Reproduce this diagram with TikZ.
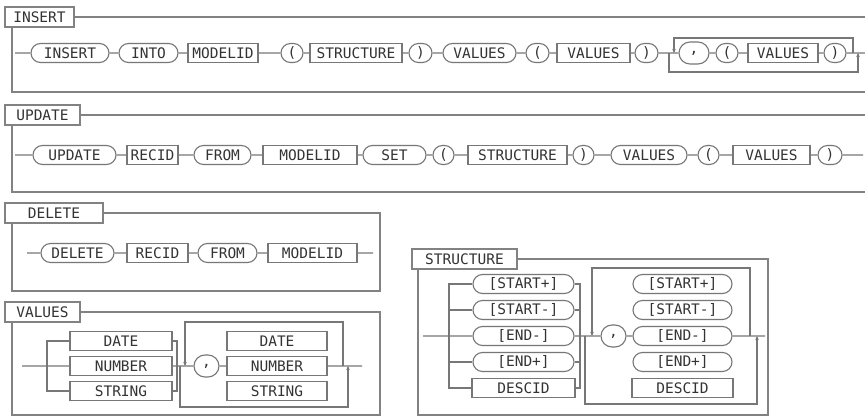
\documentclass[tikz,border=0pt]{standalone}
\usepackage{fontspec}
\newfontfamily\railfont{DejaVu Sans Mono}
\usetikzlibrary{arrows.meta, shapes.misc}

\definecolor{railgray}{HTML}{777777}
\definecolor{framegray}{HTML}{828282}
\definecolor{txtgray}{HTML}{333333}

\begin{document}
\begin{tikzpicture}[
    x=1pt, y=-1pt,
    font={\railfont\fontsize{14.5}{16}\selectfont},
    >={Stealth[length=4pt, width=3.5pt]},
    rail/.style={draw=railgray, line width=1.1pt},
    frame/.style={draw=framegray, line width=1.4pt},
    term/.style={rounded rectangle, draw=railgray, line width=1.1pt, fill=white, text=txtgray, minimum height=19pt, inner xsep=1pt, inner ysep=0pt},
    nterm/.style={rectangle, draw=railgray, line width=1.1pt, fill=white, text=txtgray, minimum height=19pt, inner xsep=1pt, inner ysep=0pt},
    title/.style={rectangle, draw=framegray, line width=1.4pt, fill=white, text=txtgray, minimum height=20pt, inner xsep=1pt, inner ysep=0pt}
]
    \fill[white, use as bounding box] (0,0) rectangle (865,417);

    % --- INSERT ---
    \node[title, minimum width=69pt] (ins-title) at (39.5,17) {INSERT};
    \draw[frame] (ins-title.east) -- (865,17);
    \draw[frame] (12,27) |- (865,92);

    \coordinate (ins-start) at (15,53);
    \node[term, minimum width=80pt] (ins-insert) at (70,53) {INSERT};
    \node[term, minimum width=61pt] (ins-into) at (148.5,53) {INTO};
    \node[nterm, minimum width=70pt] (ins-modelid) at (223,53) {MODELID};
    \node[term, minimum width=24pt] (ins-lp1) at (292,53) {(};
    \node[nterm, minimum width=92pt] (ins-struct) at (356,53) {STRUCTURE};
    \node[term, minimum width=25pt] (ins-rp1) at (420.5,53) {)};
    \node[term, minimum width=75pt] (ins-values) at (479.5,53) {VALUES};
    \node[term, minimum width=25pt] (ins-lp2) at (537.5,53) {(};
    \node[nterm, minimum width=73pt] (ins-valbox) at (593.5,53) {VALUES};
    \node[term, minimum width=25pt] (ins-rp2) at (646.5,53) {)};
    \node[term, minimum width=32pt, minimum height=22pt] (ins-comma) at (694,53) {,};
    \node[term, minimum width=24pt] (ins-lp3) at (727,53) {(};
    \node[nterm, minimum width=70pt] (ins-valbox2) at (783,53) {VALUES};
    \node[term, minimum width=24pt] (ins-rp3) at (835,53) {)};
    \coordinate (ins-end) at (865,53);

    \draw[rail] (ins-start) -- (ins-insert) -- (ins-into) -- (ins-modelid) -- (ins-lp1) -- (ins-struct)
        -- (ins-rp1) -- (ins-values) -- (ins-lp2) -- (ins-valbox) -- (ins-rp2) -- (ins-comma)
        -- (ins-lp3) -- (ins-valbox2) -- (ins-rp3) -- (ins-end);

    % repeat loop
    \coordinate (ins-lt) at (674,53);
    \coordinate (ins-top) at (674,38);
    \coordinate (ins-rt) at (853,53);
    \coordinate (ins-lb) at (669,53);
    \coordinate (ins-bot) at (858,72);
    \coordinate (ins-rb) at (858,53);
    \draw[rail, ->] (ins-rt) |- (ins-top) -- (ins-lt);
    \draw[rail, ->] (ins-lb) |- (ins-bot) -- (ins-rb);

    % --- UPDATE ---
    \node[title, minimum width=75pt] (upd-title) at (42.5,115) {UPDATE};
    \draw[frame] (upd-title.east) -- (865,115);
    \draw[frame] (12,125) |- (865,192);

    \coordinate (upd-start) at (15,155);
    \node[term, minimum width=85pt] (upd-update) at (74.5,155) {UPDATE};
    \node[nterm, minimum width=51pt] (upd-recid) at (152.5,155) {RECID};
    \node[term, minimum width=59pt] (upd-from) at (222.5,155) {FROM};
    \node[nterm, minimum width=94pt] (upd-modelid) at (310,155) {MODELID};
    \node[term, minimum width=65pt] (upd-set) at (394.5,155) {SET};
    \node[term, minimum width=23pt] (upd-lp1) at (443.5,155) {(};
    \node[nterm, minimum width=99pt] (upd-struct) at (517.5,155) {STRUCTURE};
    \node[term, minimum width=23pt] (upd-rp1) at (583.5,155) {)};
    \node[term, minimum width=78pt] (upd-values) at (649,155) {VALUES};
    \node[term, minimum width=23pt] (upd-lp2) at (708.5,155) {(};
    \node[nterm, minimum width=77pt] (upd-valbox) at (771.5,155) {VALUES};
    \node[term, minimum width=26pt] (upd-rp2) at (830,155) {)};
    \coordinate (upd-end) at (863,155);

    \draw[rail] (upd-start) -- (upd-update) -- (upd-recid) -- (upd-from) -- (upd-modelid) -- (upd-set)
        -- (upd-lp1) -- (upd-struct) -- (upd-rp1) -- (upd-values) -- (upd-lp2) -- (upd-valbox)
        -- (upd-rp2) -- (upd-end);

    % --- DELETE ---
    \node[title, minimum width=98pt] (del-title) at (54,213) {DELETE};
    \draw[frame] (del-title.east) -| (380,291) -| (12,223);

    \coordinate (del-start) at (27,253);
    \node[term, minimum width=75pt] (del-delete) at (77.5,253) {DELETE};
    \node[nterm, minimum width=61pt] (del-recid) at (157.5,253) {RECID};
    \node[term, minimum width=61pt] (del-from) at (227.5,253) {FROM};
    \node[nterm, minimum width=89pt] (del-modelid) at (312.5,253) {MODELID};
    \coordinate (del-end) at (373,253);

    \draw[rail] (del-start) -- (del-delete) -- (del-recid) -- (del-from) -- (del-modelid) -- (del-end);

    % --- VALUES ---
    \node[title, minimum width=75pt] (val-title) at (42.5,312) {VALUES};
    \draw[frame] (val-title.east) -| (380,415) -| (12,322);

    \coordinate (val-start) at (22,366);
    \coordinate (val-split) at (47,366);
    \node[nterm, minimum width=102pt] (val-date) at (121,341) {DATE};
    \node[nterm, minimum width=102pt] (val-number) at (121,366) {NUMBER};
    \node[nterm, minimum width=102pt] (val-string) at (121,391) {STRING};
    \coordinate (val-merge) at (177,366);
    \node[term, minimum width=27pt, minimum height=22pt] (val-comma) at (206.5,366) {,};
    \node[nterm, minimum width=100pt] (val-date2) at (277,341) {DATE};
    \node[nterm, minimum width=100pt] (val-number2) at (277,366) {NUMBER};
    \node[nterm, minimum width=100pt] (val-string2) at (277,391) {STRING};
    \coordinate (val-end) at (362,366);

    \draw[rail] (val-start) -- (val-number) -- (val-comma) -- (val-number2) -- (val-end);
    \foreach \n in {date,string} {
        \draw[rail] (val-\n.west) -| (val-split);
        \draw[rail] (val-\n.east) -| (val-merge);
    }

    % repeat loop
    \coordinate (val-lt) at (185,366);
    \coordinate (val-top) at (185,322);
    \coordinate (val-rt) at (343,366);
    \coordinate (val-lb) at (180,366);
    \coordinate (val-bot) at (348,407);
    \coordinate (val-rb) at (348,366);
    \draw[rail, ->] (val-rt) |- (val-top) -- (val-lt);
    \draw[rail, ->] (val-lb) |- (val-bot) -- (val-rb);

    % --- STRUCTURE ---
    \node[title, minimum width=105pt] (st-title) at (464.5,259) {STRUCTURE};
    \draw[frame] (st-title.east) -| (768,415) -| (418,269);

    \coordinate (st-start) at (423,336);
    \coordinate (st-split) at (449,336);
    \node[term, minimum width=103pt] (st-startp) at (523.5,284) {[START+]};
    \node[term, minimum width=103pt] (st-startm) at (523.5,310) {[START-]};
    \node[term, minimum width=103pt] (st-endm) at (523.5,336) {[END-]};
    \node[term, minimum width=103pt] (st-endp) at (523.5,362) {[END+]};
    \node[nterm, minimum width=103pt] (st-descid) at (523.5,388) {DESCID};
    \coordinate (st-merge) at (580,336);
    \node[term, minimum width=27pt, minimum height=22pt] (st-comma) at (613.5,336) {,};
    \node[term, minimum width=101pt] (st-startp2) at (682.5,284) {[START+]};
    \node[term, minimum width=101pt] (st-startm2) at (682.5,310) {[START-]};
    \node[term, minimum width=101pt] (st-endm2) at (682.5,336) {[END-]};
    \node[term, minimum width=101pt] (st-endp2) at (682.5,362) {[END+]};
    \node[nterm, minimum width=101pt] (st-descid2) at (682.5,388) {DESCID};
    \coordinate (st-end) at (765,336);

    \draw[rail] (st-start) -- (st-endm) -- (st-comma) -- (st-endm2) -- (st-end);
    \foreach \n in {startp,startm,endp,descid} {
        \draw[rail] (st-\n.west) -| (st-split);
        \draw[rail] (st-\n.east) -| (st-merge);
    }

    % repeat loop
    \coordinate (st-lt) at (592,336);
    \coordinate (st-top) at (592,268);
    \coordinate (st-rt) at (750,336);
    \coordinate (st-lb) at (585,336);
    \coordinate (st-bot) at (757,404);
    \coordinate (st-rb) at (757,336);
    \draw[rail, ->] (st-rt) |- (st-top) -- (st-lt);
    \draw[rail, ->] (st-lb) |- (st-bot) -- (st-rb);

\end{tikzpicture}
\end{document}
